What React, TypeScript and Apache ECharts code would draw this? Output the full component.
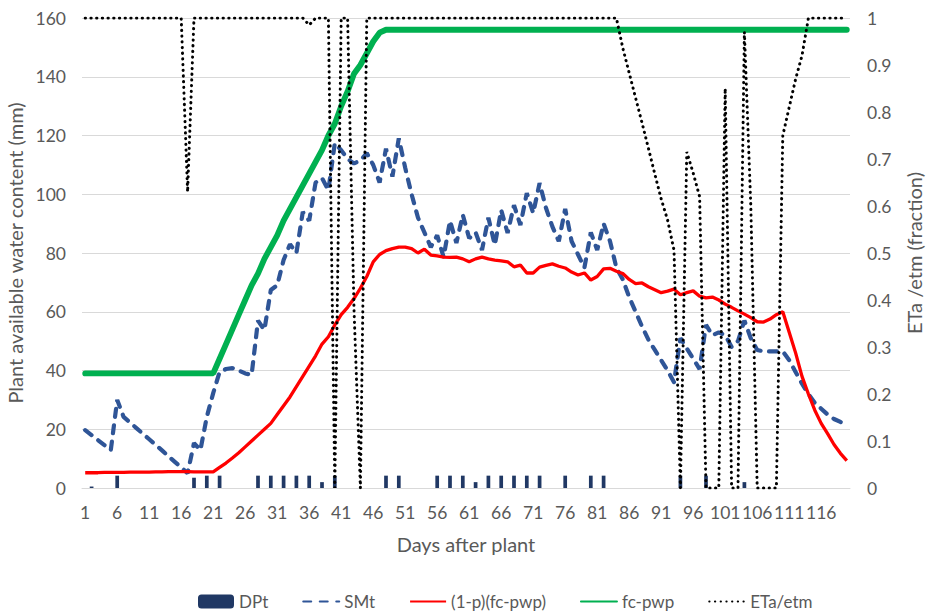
import React, { useEffect, useRef } from "react";
import * as echarts from "echarts";

const days: string[] = Array.from({ length: 120 }, (_, i) => String(i + 1));

const dpt: number[] = [
  0, 0.5, 0, 0, 0, 4.2, 0, 0, 0, 0,
  0, 0, 0, 0, 0, 0, 0, 3.5, 0, 4.2,
  0, 4.2, 0, 0, 0, 0, 0, 4.2, 0, 4.2,
  0, 4.2, 0, 4.2, 0, 4.2, 0, 2, 0, 4.2,
  0, 0, 0, 0, 0, 0, 0, 4.2, 0, 4.2,
  0, 0, 0, 0, 0, 4.2, 0, 4.2, 0, 4.2,
  0, 2, 0, 4.2, 0, 4.2, 0, 4.2, 0, 4.2,
  0, 4.2, 0, 0, 0, 4.2, 0, 0, 0, 4.2,
  0, 4.2, 0, 0, 0, 0, 0, 0, 0, 0,
  0, 0, 0, 4.2, 0, 0, 0, 4.2, 0, 0,
  0, 0, 0, 2, 0, 0, 0, 0, 0, 0,
  0, 0, 0, 0, 0, 0, 0, 0, 0, 0,
];

const smt: number[] = [
  19.7, 18, 16.3, 14.6, 12.9, 30, 24.2, 22.3, 20.4, 18.5,
  16.6, 14.7, 12.8, 10.8, 8.9, 7, 5, 15.3, 12.9, 24.2,
  32.3, 39.5, 40.5, 40.8, 40, 39, 38.5, 57, 53.8, 67.4,
  69, 77.6, 83, 80, 94, 91, 104, 105.5, 101.4, 117.4,
  115, 112, 110.5, 111.5, 114, 110, 104, 115.5, 106, 119,
  109, 100, 92, 87, 82, 86, 78.6, 91, 83.4, 93,
  85, 87, 81, 92, 82.7, 94.6, 86.8, 96.3, 89.5, 100.4,
  93.6, 103.8, 95.3, 89, 84, 95, 84, 79.5, 75, 87,
  81, 90, 84, 75, 71, 65, 60, 55, 50.5, 47,
  43.5, 40, 36, 51, 47.5, 44, 40.5, 55.5, 52, 53,
  52, 48, 50, 57, 51, 47, 46.5, 46.5, 46.5, 46.5,
  43.5, 39.5, 35.5, 32, 29, 27, 25, 23.5, 22.5, 21.5,
];

const rawLimit: number[] = [
  5.2, 5.2, 5.2, 5.3, 5.3, 5.3, 5.3, 5.4, 5.4, 5.4,
  5.4, 5.5, 5.5, 5.6, 5.6, 5.6, 5.6, 5.5, 5.5, 5.5,
  5.5, 7, 8.5, 10.2, 12, 14, 16, 18, 20, 22,
  25, 28, 31, 34.5, 38, 41.5, 45, 49, 51.5, 55.5,
  59, 61.5, 64.5, 68, 72, 77, 79.5, 80.8, 81.5, 82,
  82, 81.5, 80, 81.3, 79.3, 79, 78.6, 78.5, 78.6, 78,
  77, 78, 78.6, 78, 77.6, 77.3, 77, 75.3, 75.9, 73.2,
  73.2, 75.2, 75.8, 76.3, 75.5, 74.9, 73.5, 72.5, 73.2, 70.8,
  72, 74.6, 74.8, 73.8, 73, 71, 69.6, 69.8, 68.5, 67.5,
  66.5, 67, 67.7, 65.8, 66.5, 67.1, 65.3, 64.7, 65, 64,
  62.6, 61.5, 60.3, 59.2, 58, 56.6, 56.5, 57.5, 59, 60,
  53, 46, 38, 32, 26.5, 22, 18.5, 14.8, 11.8, 9.3,
];

const fcPwp: number[] = [
  39, 39, 39, 39, 39, 39, 39, 39, 39, 39,
  39, 39, 39, 39, 39, 39, 39, 39, 39, 39,
  39, 44, 49, 54, 59, 64, 69, 73, 78, 82,
  86, 91, 95, 99, 103, 107, 111, 115, 120, 124,
  130, 135, 141, 144, 148, 152, 155, 156, 156, 156,
  156, 156, 156, 156, 156, 156, 156, 156, 156, 156,
  156, 156, 156, 156, 156, 156, 156, 156, 156, 156,
  156, 156, 156, 156, 156, 156, 156, 156, 156, 156,
  156, 156, 156, 156, 156, 156, 156, 156, 156, 156,
  156, 156, 156, 156, 156, 156, 156, 156, 156, 156,
  156, 156, 156, 156, 156, 156, 156, 156, 156, 156,
  156, 156, 156, 156, 156, 156, 156, 156, 156, 156,
];

const etaEtm: number[] = [
  1, 1, 1, 1, 1, 1, 1, 1, 1, 1,
  1, 1, 1, 1, 1, 1, 0.63, 1, 1, 1,
  1, 1, 1, 1, 1, 1, 1, 1, 1, 1,
  1, 1, 1, 1, 1, 0.985, 1, 1, 1, 0,
  1, 1, 0.38, 0, 1, 1, 1, 1, 1, 1,
  1, 1, 1, 1, 1, 1, 1, 1, 1, 1,
  1, 1, 1, 1, 1, 1, 1, 1, 1, 1,
  1, 1, 1, 1, 1, 1, 1, 1, 1, 1,
  1, 1, 1, 1, 0.936, 0.883, 0.83, 0.777, 0.723, 0.668,
  0.615, 0.57, 0.506, 0, 0.715, 0.67, 0.62, 0, 0, 0,
  0.85, 0, 0, 0.97, 0.6, 0, 0, 0, 0, 0.75,
  0.81, 0.87, 0.92, 1, 1, 1, 1, 1, 1, 1,
];

const leftTicks = { min: 0, max: 160, interval: 20 };
const rightTicks = { min: 0, max: 1, interval: 0.1 };

const FONT = "Lato";
const TXT = "#595959";
const hideSym = { itemStyle: { opacity: 0 } };

export default function App() {
  const ref = useRef<HTMLDivElement>(null);
  useEffect(() => {
    if (!ref.current) return;
    const chart = echarts.init(ref.current, undefined, { renderer: "svg" });
    chart.setOption({
      animation: false,
      backgroundColor: "#ffffff",
      textStyle: { fontFamily: FONT, color: TXT },
      grid: { left: 82, right: 77, top: 18, bottom: 124, containLabel: false, outerBoundsMode: "none" },
      legend: {
        top: 588,
        left: 193,
        itemWidth: 36,
        itemHeight: 14,
        itemGap: 34,
        textStyle: { fontFamily: FONT, fontSize: 17, color: TXT },
        data: [
          { name: "DPt" },
          { name: "SMt", ...hideSym },
          { name: "(1-p)(fc-pwp)", ...hideSym },
          { name: "fc-pwp", ...hideSym },
          { name: "ETa/etm", ...hideSym },
        ],
      },
      xAxis: {
        type: "category",
        data: days,
        boundaryGap: true,
        axisLine: { show: true, lineStyle: { color: "#D9D9D9", width: 1 } },
        axisTick: { show: false },
        axisLabel: { interval: 4, color: TXT, fontSize: 17.5, fontFamily: FONT, margin: 15 },
        splitLine: { show: false },
        name: "Days after plant",
        nameLocation: "middle",
        nameGap: 46,
        nameTextStyle: { fontSize: 20, color: TXT, fontFamily: FONT },
      },
      yAxis: [
        {
          type: "value",
          ...leftTicks,
          axisLine: { show: false },
          axisTick: { show: false },
          splitLine: { show: true, lineStyle: { color: "#D9D9D9", width: 1 } },
          axisLabel: { color: TXT, fontSize: 17.5, fontFamily: FONT, margin: 16 },
          name: "Plant available water content (mm)",
          nameLocation: "middle",
          nameGap: 54,
          nameTextStyle: { fontSize: 20, color: TXT, fontFamily: FONT },
        },
        {
          type: "value",
          ...rightTicks,
          axisLine: { show: false },
          axisTick: { show: false },
          splitLine: { show: false },
          axisLabel: {
            color: TXT,
            fontSize: 17.5,
            fontFamily: FONT,
            margin: 17,
            formatter: (v: number) => String(parseFloat(v.toFixed(1))),
          },
          name: "ETa /etm (fraction)",
          nameLocation: "middle",
          nameGap: 54,
          nameTextStyle: { fontSize: 20, color: TXT, fontFamily: FONT },
        },
      ],
      series: [
        {
          name: "DPt",
          type: "bar",
          yAxisIndex: 0,
          data: dpt,
          barWidth: "58%",
          itemStyle: { color: "#203864" },
        },
        {
          name: "SMt",
          type: "line",
          yAxisIndex: 0,
          data: smt,
          symbol: "none",
          color: "#2F5597",
          lineStyle: { color: "#2F5597", width: 4.2, type: [8, 8.5], cap: "round" },
        },
        {
          name: "(1-p)(fc-pwp)",
          type: "line",
          yAxisIndex: 0,
          data: rawLimit,
          symbol: "none",
          color: "#FF0000",
          lineStyle: { color: "#FF0000", width: 3.3 },
        },
        {
          name: "fc-pwp",
          type: "line",
          yAxisIndex: 0,
          data: fcPwp,
          symbol: "none",
          color: "#00B050",
          lineStyle: { color: "#00B050", width: 5.8, cap: "round" },
        },
        {
          name: "ETa/etm",
          type: "line",
          yAxisIndex: 1,
          data: etaEtm,
          symbol: "none",
          color: "#000000",
          lineStyle: { color: "#000000", width: 3, type: [0.3, 5.4], cap: "round" },
        },
      ],
    });
    return () => chart.dispose();
  }, []);
  return (
    <div
      ref={ref}
      style={{ position: "fixed", left: 0, top: 0, width: 927, height: 612, background: "#fff" }}
    />
  );
}
